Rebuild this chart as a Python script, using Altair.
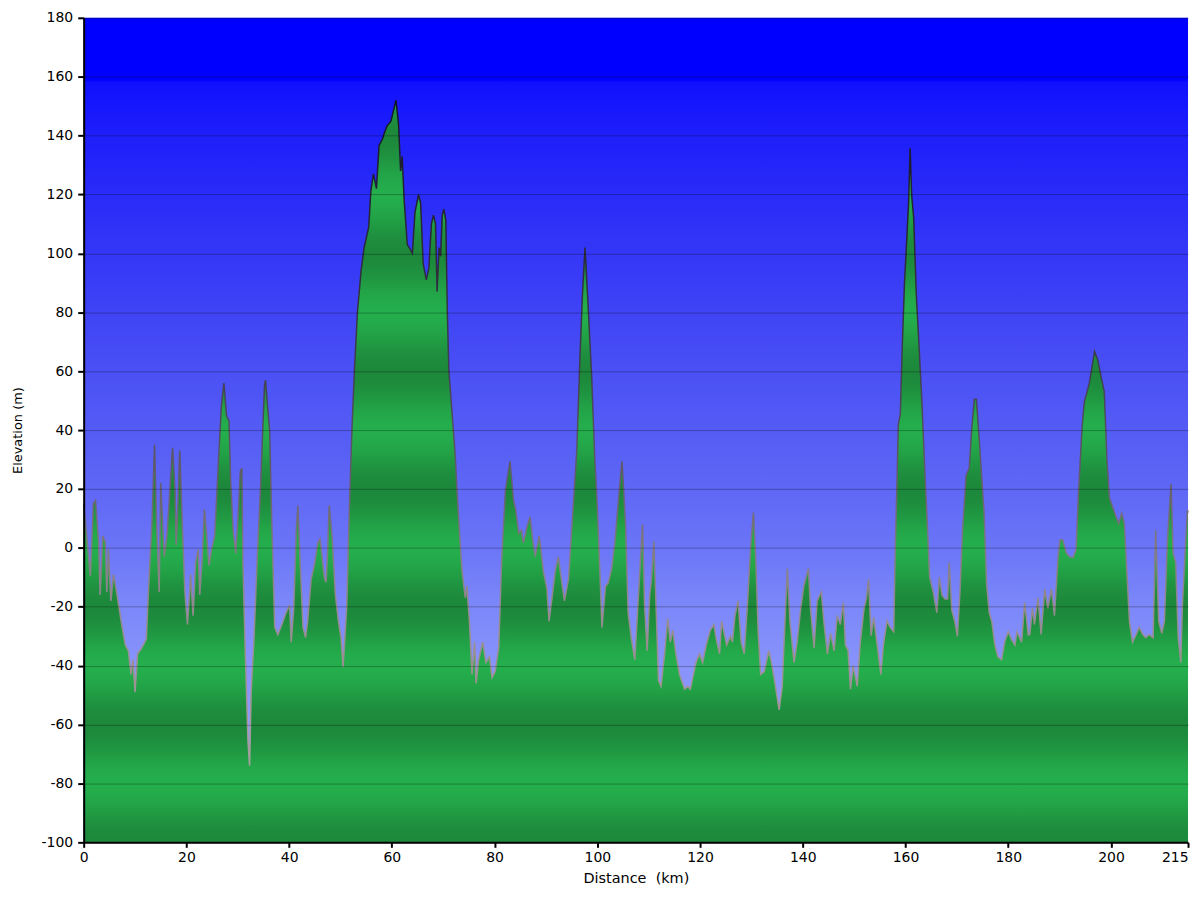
import altair as alt
import pandas as pd
import math

# ---- data ----
km = [0, 0.6, 1.3, 1.9, 2.3, 2.9, 3.2, 3.7, 4.2, 4.5, 4.8, 5.3, 5.8, 6.5, 7.4, 8.1, 8.7, 9.2, 9.6, 10.0,
      10.5, 11.3, 12.2, 12.6, 13.3, 13.8, 14.2, 14.7, 15.0, 15.4, 15.7, 16.2, 16.7, 17.3, 17.8, 18.0, 18.4,
      18.7, 19.2, 19.7, 20.2, 20.6, 20.8, 21.3, 21.8, 22.3, 22.6, 23.1, 23.5, 23.9, 24.4, 24.9, 25.5, 26.2,
      26.8, 27.3, 27.8, 28.3, 28.6, 29.1, 29.6, 30.1, 30.5, 30.8, 31.0, 31.5, 32.0, 32.3, 32.6, 33.1, 33.5,
      33.9, 34.4, 34.9, 35.2, 35.4, 35.9, 36.2, 36.6,
      37.2, 37.8, 38.8, 39.4, 40.1, 40.4, 40.9, 41.4, 41.7, 42.1, 42.7, 43.2, 43.6, 44.3, 44.9, 45.6, 46.0,
      46.4, 46.9, 47.2, 47.5, 47.8, 48.4, 49.0, 49.6, 50.1, 50.5,
      51.2, 51.7, 52.2, 52.7, 53.3, 54.0, 54.6, 55.5, 55.9, 56.4, 57.0, 57.5, 58.2, 58.5, 59.1, 59.8, 60.8,
      61.3, 61.7, 62.0, 62.4, 63.0, 63.7, 64.0, 64.5, 65.2, 65.6, 66.1, 66.7, 67.2, 67.7, 68.1, 68.5, 68.8,
      69.2, 69.5, 69.8, 70.1, 70.5, 70.8, 71.1, 71.7, 72.3, 72.7, 73.4,
      73.7, 74.3, 74.6, 75.1, 75.6, 76.1, 76.4, 76.9, 77.7, 78.3, 79.0, 79.5, 80.1, 80.8, 81.4, 82.1, 83.0,
      83.7, 84.1, 84.7, 85.2, 85.6, 86.3, 86.9, 87.4, 87.9, 88.7, 89.5, 90.2, 90.6, 91.1, 91.8, 92.4, 92.9,
      93.6, 94.4, 95.3, 96.0, 96.6, 97.1, 97.6, 98.1, 98.9, 99.5, 100.0, 100.5, 100.9, 101.6, 102.1, 102.8,
      103.4, 104.0, 104.8, 105.5, 106.0, 106.6, 107.3, 107.9, 108.8, 109.2, 109.7, 110.2,
      110.5, 111.0, 111.5, 111.9, 112.4, 113.1, 113.7, 114.2, 114.7, 115.3, 116.0, 117.0, 117.6, 118.1,
      118.6, 119.2, 119.9, 120.5, 121.2, 122.0, 122.7, 123.1, 123.8, 124.2, 124.7, 125.2, 125.9, 126.3,
      126.8, 127.4, 128.0, 128.6, 129.3, 129.9, 130.4, 130.9, 131.3, 131.8, 132.5, 133.0, 133.4, 133.9,
      134.5, 135.4, 136.0, 136.5, 137.0, 137.5, 138.3, 138.9, 139.6, 140.2, 141.1, 141.5, 142.2, 142.8,
      143.6, 144.1, 144.8, 145.4, 146.1, 146.7,
      147.3, 147.9, 148.3, 148.8, 149.3, 149.8, 150.6, 151.2, 151.9, 152.4, 152.8, 153.3, 153.8, 154.5,
      155.2, 155.7, 156.4, 157.0, 157.7, 158.0, 158.3, 158.6, 159.0, 159.3, 159.8, 160.1, 160.6, 160.9,
      161.2, 161.6, 162.1, 162.5, 163.2, 163.8, 164.3, 164.7, 165.4, 166.1, 166.6, 167.1, 167.7, 168.2,
      168.5, 169.0, 169.6, 170.1, 170.6, 171.1, 171.8, 172.4, 172.9, 173.4, 173.8, 174.4, 174.8, 175.3,
      175.8, 176.3, 176.8, 177.4, 178.0, 178.7, 179.3, 180.0, 180.6, 181.3, 181.7, 182.6, 183.2, 183.9,
      184.2, 184.7, 185.1, 185.8, 186.4, 187.1, 187.7, 188.4, 189.0, 189.7, 190.1, 190.6, 191.3, 191.9,
      192.6, 193.2, 193.7, 194.4, 194.8, 195.8, 196.8, 197.4, 198.1, 198.7, 199.2, 199.7, 200.3, 201.0,
      201.5, 202.1, 202.6, 203.1, 203.6, 204.2, 204.9, 205.5, 206.2, 206.8, 207.4, 208.2, 208.7, 209.3,
      209.9, 210.4, 211.0, 211.7, 212.1, 212.6, 213.1, 213.6, 213.9, 214.4, 214.9, 215.0]

elev = [15, 4, -9.5, 15, 16, 2, -16, 4, 2, -15, -0.5, -18, -9, -16, -26, -33, -35, -43, -38, -49,
        -36, -34, -31, -15, 9, 35, 8, -15, 22, 7, -3, 4, 17, 34, 19, 1, 17,
        33, 8, -15, -26, -16, -9, -23, -5, -0.5, -16, -3, 13, 5, -6, -0.5, 4, 28,
        48, 56, 45, 43, 23, 6, -2, 12, 26, 27, -5, -38, -66, -74, -49, -33, -16,
        1, 19, 42, 55, 57, 46, 40, 10,
        -27, -29.5, -25, -22, -19.5, -32, -20.5, 6, 14.4, -3, -27, -30.5, -25, -10.5, -6, 1.7, 3,
        -3, -10.5, -11.7, -0.5, 14.4, 3, -16, -25, -30.5, -40.5,
        -20.5, 12, 39, 60, 80, 94, 102, 109, 121, 127, 122, 136.6, 139, 140.7, 143.4, 144.8, 152,
        144, 128, 133, 118, 103, 101, 100, 114, 120, 117, 96.5, 91, 95, 110, 113, 110, 87,
        102, 99, 113, 115, 111.5, 80, 60, 46, 32.5, 19, -1.5,
        -8.3, -17, -13, -25, -43, -32, -46, -38, -32, -39, -37, -44, -42, -34, -3, 19.4, 29.4,
        16, 13, 5, 6, 1.7, 7, 10.5, 3, -3, 4, -8, -14, -25, -18, -8, -3, -9.4,
        -18, -10.5, 14, 33, 64, 86, 102, 86, 58, 30.5, 14, -8, -27, -13, -12, -7,
        1.7, 14, 29.4, 8, -22, -30.5, -38, -19.4, 8, -19.4, -35, -16,
        -11.7, 2.2, -23, -45, -47, -36, -24, -32, -28, -36, -43, -48, -47, -48,
        -44, -39, -36, -39, -33, -28, -26, -30.5, -36, -25, -29, -33, -30, -32,
        -23, -18, -32, -36, -17, 1.7, 12, -6, -28, -43, -42, -38, -35, -39,
        -45, -55, -47, -26, -7, -25, -39, -32, -20.5, -13, -7, -20.5, -34, -18,
        -15, -25, -36, -29, -35, -23,
        -26, -18.6, -33, -34.7, -48, -40, -47, -32, -21, -17, -10.6, -29.8, -23.6, -33,
        -43, -33, -24.8, -27, -28.5, -0.1, 19.6, 41.9, 45.6, 65, 90, 100, 117, 135.7,
        119.6, 112, 86, 73, 49, 24.6, 6, -10, -15, -22, -10, -16, -17.4, -17.4,
        -5, -21, -25, -30, -15, 6, 24.6, 27, 40.6, 50.5, 50.5, 35.6, 24.6, 12,
        -12.5, -22, -25, -33, -37, -38, -32, -28.5, -31, -33, -28.5, -32, -18.6, -29.6,
        -29.4, -20.5, -26, -17, -29.4, -14, -20.5, -14, -23, -3, 2.8, 2.8, -1.7, -3,
        -3.3, -0.6, 19.4, 41.7, 49.4, 56, 66.7, 64, 58, 53, 30.5, 17, 14, 10.5,
        8.3, 11.7, 8.3, -8.3, -25, -32, -29.4, -27, -29.4, -30.5, -29.4, -30.5, 6, -25,
        -29, -25, 2.8, 21.7, -1.7, -5, -30.5, -39, -19.4, -2.8, 12.8, 12]

x_ticks = [0, 20, 40, 60, 80, 100, 120, 140, 160, 180, 200, 215]
y_ticks = [-100, -80, -60, -40, -20, 0, 20, 40, 60, 80, 100, 120, 140, 160, 180]

df = pd.DataFrame({"km": km, "elev": elev})

W, H = 1109, 828
X_MIN, X_MAX = 0, 215
Y_MIN, Y_MAX = -100, 180
FONT = "DejaVu Sans"


def hex_mix(c1, c2, t):
    a = [int(c1[i:i + 2], 16) for i in (1, 3, 5)]
    b = [int(c2[i:i + 2], 16) for i in (1, 3, 5)]
    return "#" + "".join(f"{round(a[i] + (b[i] - a[i]) * t):02x}" for i in range(3))


# background (sky) gradient, top -> bottom of plot
bg_stops = [
    (180, "#0000ff"), (159, "#0000ff"), (158, "#1010ff"), (140, "#1e1ffa"),
    (100, "#3537f6"), (60, "#4a50f4"), (20, "#5f67f5"), (0, "#6b75f7"),
    (-20, "#7c88f9"), (-40, "#8893fb"), (-100, "#a0aaff"),
]
bg_gradient = {
    "gradient": "linear", "x1": 0, "y1": 0, "x2": 0, "y2": 1,
    "stops": [{"offset": (Y_MAX - v) / (Y_MAX - Y_MIN), "color": c} for v, c in bg_stops],
}

# green banded gradient for the area (relative to area bbox: max elevation .. -100)
top_val = max(elev)
DARK, LIGHT = "#1d883b", "#24ae4c"
g_stops = []
v = top_val
while v >= Y_MIN - 0.001:
    phase = ((v - Y_MIN) % 40) / 40.0
    t = 0.5 - 0.5 * math.cos(2 * math.pi * phase)
    g_stops.append({"offset": min(1, max(0, (top_val - v) / (top_val - Y_MIN))),
                    "color": hex_mix(DARK, LIGHT, t)})
    v -= 2.5
g_stops.append({"offset": 1, "color": DARK})
green_gradient = {"gradient": "linear", "x1": 0, "y1": 0, "x2": 0, "y2": 1, "stops": g_stops}

# outline gradient (dark at high elevations, grey at low ones)
low_val = min(elev)
l_stops_def = [(160, "#15152a"), (100, "#2a2a3a"), (60, "#3f3f4f"), (20, "#666070"),
               (0, "#807a84"), (-20, "#938a8e"), (-50, "#9e9494"), (-80, "#a89f9f")]
l_stops = []
for val, col in l_stops_def:
    off = (top_val - val) / (top_val - low_val)
    l_stops.append({"offset": min(1, max(0, off)), "color": col})
line_gradient = {"gradient": "linear", "x1": 0, "y1": 0, "x2": 0, "y2": 1, "stops": l_stops}

x_scale = alt.Scale(domain=[X_MIN, X_MAX], nice=False, zero=False)
y_scale = alt.Scale(domain=[Y_MIN, Y_MAX], nice=False, zero=False)

x_axis = alt.Axis(
    values=x_ticks, title="Distance\u00a0\u00a0(km)", grid=False,
    domainColor="black", domainWidth=2, tickColor="black", tickWidth=2, tickSize=5,
    labelFont=FONT, labelFontSize=14, labelColor="black", labelPadding=3,
    labelExpr="'' + datum.value",
    labelAlign={"condition": {"test": "datum.value == 215", "value": "right"}, "value": "center"},
    titleFont=FONT, titleFontSize=14.5, titleFontWeight="normal", titleColor="black", titlePadding=7,
    zindex=1,
)
y_axis = alt.Axis(
    values=y_ticks, title="Elevation (m)", grid=True, gridColor="black", gridOpacity=0.28,
    gridWidth=1, domainColor="black", domainWidth=2, tickColor="black", tickWidth=2, tickSize=6,
    labelFont=FONT, labelFontSize=14, labelColor="black", labelPadding=5,
    labelExpr="'' + datum.value",
    titleFont=FONT, titleFontSize=13, titleFontWeight="normal", titleColor="black", titlePadding=17,
    zindex=1,
)

background = alt.Chart(df).mark_rect(fill=bg_gradient).encode(
    x=alt.XDatum(X_MIN, type="quantitative", scale=x_scale, axis=x_axis),
    x2=alt.datum(X_MAX),
    y=alt.YDatum(Y_MIN, type="quantitative", scale=y_scale, axis=y_axis),
    y2=alt.datum(Y_MAX),
).transform_filter("datum.km == 0")

area = alt.Chart(df).mark_area(fill=green_gradient, interpolate="linear").encode(
    x=alt.X("km:Q", scale=x_scale, axis=x_axis),
    y=alt.Y("elev:Q", scale=y_scale, axis=y_axis),
    y2=alt.datum(Y_MIN),
)

outline = alt.Chart(df).mark_line(stroke=line_gradient, strokeWidth=1.5).encode(
    x=alt.X("km:Q", scale=x_scale, axis=x_axis),
    y=alt.Y("elev:Q", scale=y_scale, axis=y_axis),
)

chart = alt.layer(background, area, outline).properties(
    width=W, height=H,
    autosize=alt.AutoSizeParams(type="none"),
    padding={"left": 76, "top": 8, "right": 4, "bottom": 48},
    background="white",
).configure_view(stroke=None)

chart.save("out.html", embed_options={"renderer": "svg", "actions": False})
